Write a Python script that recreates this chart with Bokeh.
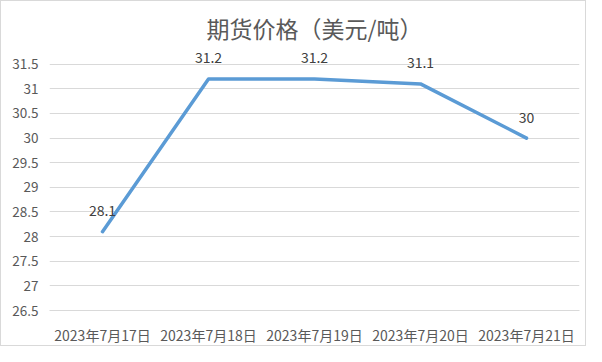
from bokeh.plotting import figure
from bokeh.models import FactorRange, ColumnDataSource, FixedTicker, Range1d, LabelSet
from bokeh.core.properties import value
from bokeh.embed import file_html
from bokeh.resources import INLINE

dates = ["2023年7月17日", "2023年7月18日", "2023年7月19日", "2023年7月20日", "2023年7月21日"]
prices = [28.1, 31.2, 31.2, 31.1, 30.0]
price_labels = ["28.1", "31.2", "31.2", "31.1", "30"]
y_ticks = [26.5, 27, 27.5, 28, 28.5, 29, 29.5, 30, 30.5, 31, 31.5]

FONT = "Noto Sans CJK SC"

src = ColumnDataSource(dict(x=dates, y=prices, lab=price_labels))

# extra headroom above 31.5 so the value labels are not clipped
p = figure(width=586, height=346, x_range=FactorRange(factors=dates),
           y_range=Range1d(26.5, 31.9), output_backend="svg", toolbar_location=None,
           title="期货价格（美元/吨）")
p.min_border_left = 48
p.min_border_right = 8
p.min_border_top = 43
p.min_border_bottom = 33
p.styles = {"border": "1px solid #d9d9d9", "box-sizing": "border-box"}

p.title.align = "center"
p.title.text_font = FONT
p.title.text_font_size = "23px"
p.title.text_font_style = "normal"
p.title.text_color = "#595959"
p.title.offset = -13
p.title.standoff = 0

p.outline_line_color = None
p.background_fill_color = "white"
p.border_fill_color = "white"

p.yaxis.ticker = FixedTicker(ticks=y_ticks)
p.yaxis.axis_line_color = None
p.yaxis.major_tick_line_color = None
p.yaxis.minor_tick_line_color = None
p.yaxis.major_label_text_font = FONT
p.yaxis.major_label_text_font_size = "13.5px"
p.yaxis.major_label_text_color = "#595959"
p.yaxis.major_label_standoff = 5

p.xaxis.axis_line_color = "#d9d9d9"
p.xaxis.major_tick_line_color = None
p.xaxis.minor_tick_line_color = None
p.xaxis.major_label_text_font = FONT
p.xaxis.major_label_text_font_size = "14px"
p.xaxis.major_label_text_color = "#595959"
p.xaxis.major_label_standoff = 8

p.xgrid.grid_line_color = None
p.ygrid.grid_line_color = "#d9d9d9"
p.ygrid.grid_line_width = 1

p.line("x", "y", source=src, line_color="#5B9BD5", line_width=3.5, line_join="round", line_cap="round")

labels = LabelSet(x="x", y="y", text="lab", source=src, text_font=value(FONT),
                  text_font_size=value("14px"), text_color=value("#404040"),
                  text_align="center", text_baseline="middle", y_offset=21)
p.add_layout(labels)

open("out.html", "w").write(file_html(p, INLINE))
